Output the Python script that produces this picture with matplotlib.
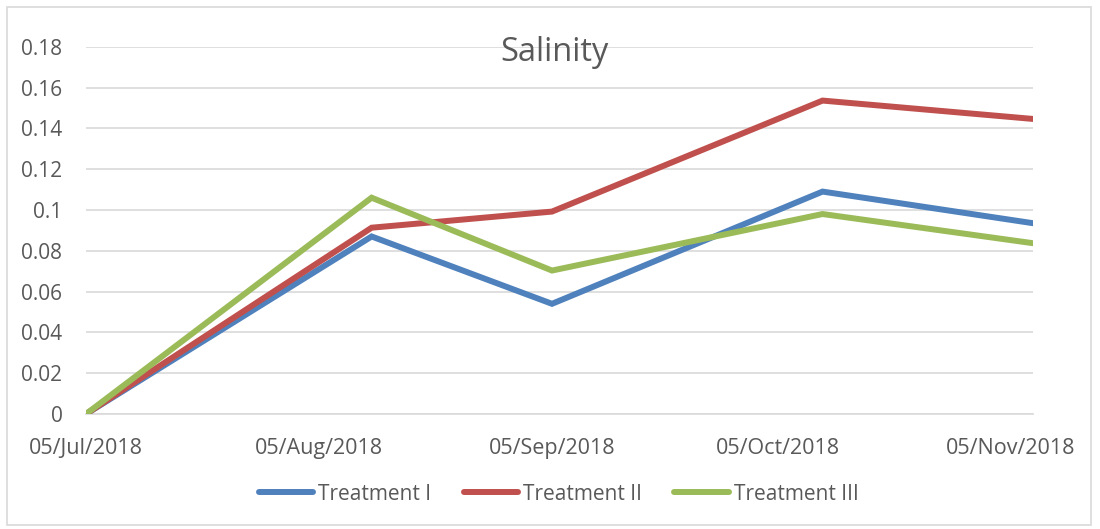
import numpy as np
import matplotlib.pyplot as plt
import matplotlib.dates as mdates
from matplotlib.patches import Rectangle
from datetime import datetime

# sampling dates and salinity readings
dates = [datetime(2018, 7, 5), datetime(2018, 8, 12), datetime(2018, 9, 5),
         datetime(2018, 10, 11), datetime(2018, 11, 8)]
treatment_1 = [0.0, 0.087, 0.054, 0.109, 0.0935]
treatment_2 = [0.0, 0.0913, 0.0992, 0.1536, 0.1446]
treatment_3 = [0.0, 0.106, 0.0703, 0.098, 0.0837]
tick_dates = [datetime(2018, m, 5) for m in (7, 8, 9, 10, 11)]
y_ticks = [0, 0.02, 0.04, 0.06, 0.08, 0.1, 0.12, 0.14, 0.16, 0.18]
y_labels = ['0', '0.02', '0.04', '0.06', '0.08', '0.1', '0.12', '0.14', '0.16', '0.18']

plt.rcParams['font.family'] = ['Open Sans', 'DejaVu Sans']
text_col = '#595959'
grid_col = '#D9D9D9'

fig = plt.figure(figsize=(11, 5.29), dpi=100)
ax = fig.add_axes([0.0782, 0.2174, 0.8609, 0.6943])

# chart border
fig.patches.append(Rectangle((0.0064, 0.0076), 0.9854, 0.9792, transform=fig.transFigure,
                             fill=False, edgecolor=grid_col, linewidth=1.2))

series = [('Treatment I', treatment_1, '#4F81BD'),
          ('Treatment II', treatment_2, '#C0504D'),
          ('Treatment III', treatment_3, '#9BBB59')]
for name, vals, col in series:
    ax.plot(dates, vals, color=col, linewidth=4.3, solid_capstyle='round',
            solid_joinstyle='miter', label=name, zorder=3)

ax.set_xlim(dates[0], dates[-1])
ax.set_ylim(0, 0.18)
ax.set_yticks(y_ticks)
ax.set_yticklabels(y_labels)
ax.set_xticks(tick_dates)
ax.xaxis.set_major_formatter(mdates.DateFormatter('%d/%b/%Y'))

ax.grid(axis='y', color=grid_col, linewidth=1.2)
ax.set_axisbelow(True)
for s in ['top', 'right', 'left']:
    ax.spines[s].set_visible(False)
ax.spines['bottom'].set_color(grid_col)
ax.spines['bottom'].set_linewidth(1.2)
ax.tick_params(axis='y', length=0, pad=17, labelsize=15, labelcolor=text_col)
ax.tick_params(axis='x', length=0, pad=17.5, labelsize=15.5, labelcolor=text_col)

fig.text(0.5045, 0.9, 'Salinity', ha='center', va='center', fontsize=23.5, color=text_col)

leg = ax.legend(loc='center', bbox_to_anchor=(0.508, 0.066), bbox_transform=fig.transFigure,
                ncol=3, frameon=False, fontsize=15, handlelength=2.6, handletextpad=0.25,
                columnspacing=1.55, labelcolor=text_col)

fig.savefig('out.png', dpi=100)
